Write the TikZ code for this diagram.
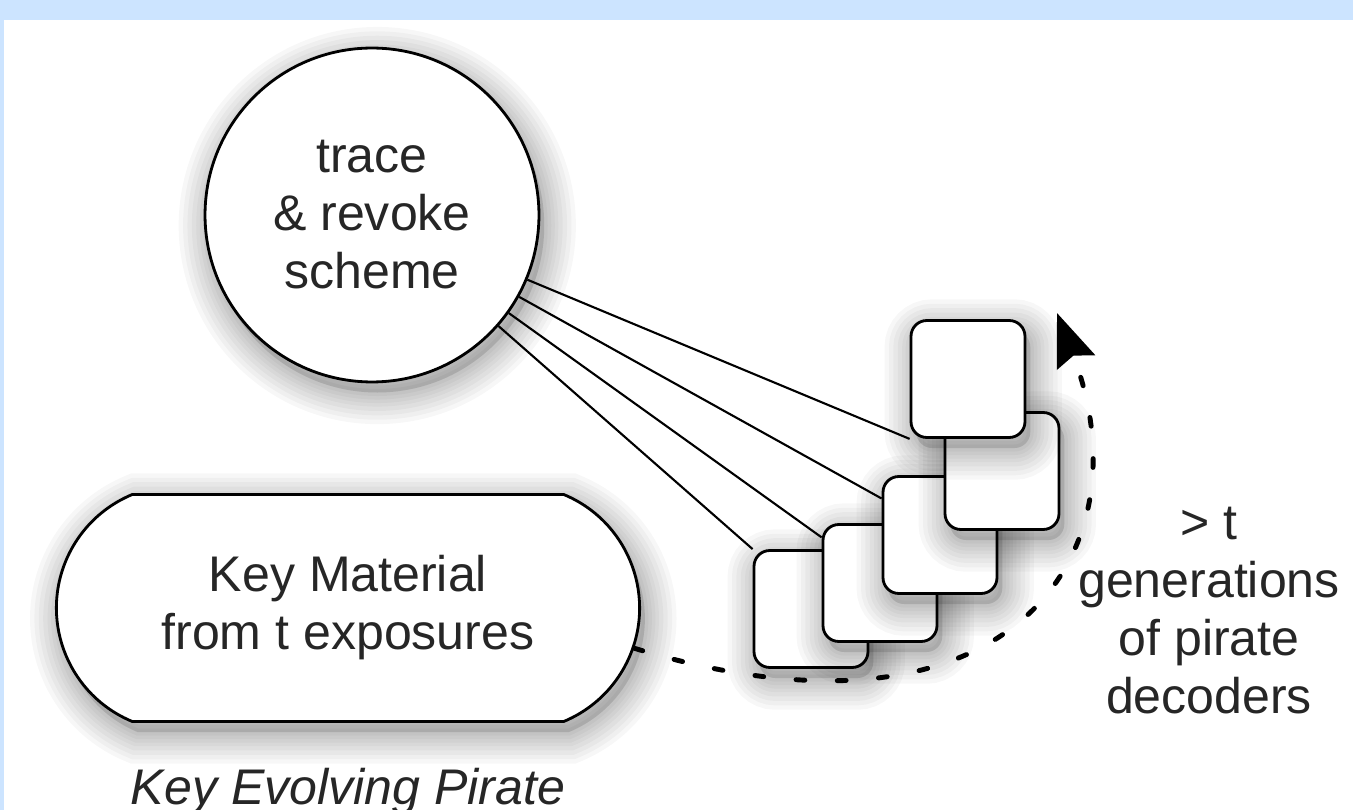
\documentclass[tikz,border=0pt]{standalone}
\usepackage{fontspec}
\setmainfont{Liberation Sans}
\setsansfont{Liberation Sans}
\usepackage{tikz}
\usetikzlibrary{positioning, shapes.misc, arrows.meta, backgrounds}
\definecolor{framebg}{RGB}{204,228,255}

\begin{document}
\begin{tikzpicture}[
    x=0.02cm, y=-0.02cm,
    >={Stealth[length=30pt, width=23pt, inset=4pt]},
    every edge/.style={draw, line width=1.2pt},
    shadowring/.style={preaction={draw=black, opacity=.03, line width=#1, transform canvas={xshift=3pt, yshift=-6pt}}},
    blurshadow/.style={
        preaction={fill=black, opacity=.12, transform canvas={xshift=3pt, yshift=-6pt}},
        shadowring=36pt, shadowring=31pt, shadowring=26pt, shadowring=21pt,
        shadowring=16pt, shadowring=12pt, shadowring=8pt, shadowring=4pt},
    txt/.style={font=\sffamily\fontsize{28.5pt}{33pt}\selectfont, text=black!85, align=center},
    scheme/.style={circle, draw, line width=1.6pt, fill=white, blurshadow, minimum size=6.68cm, inner sep=0pt, txt},
    keybox/.style={rounded rectangle, rounded rectangle arc length=135, draw, line width=1.6pt, fill=white, blurshadow, minimum width=11.9cm, minimum height=4.54cm, txt},
    decoder/.style={draw, line width=1.6pt, rounded corners=9pt, fill=white, blurshadow, minimum width=2.28cm, minimum height=2.34cm, inner sep=0pt},
    evolve/.style={line width=2.8pt, dash pattern=on 5pt off 18.5pt, line cap=round, ->},
    caption/.style={txt, font=\sffamily\itshape\fontsize{28.5pt}{33pt}\selectfont, inner sep=0pt}]

    \useasboundingbox (0,0) rectangle (1353,810);

    \node at (372,215) [scheme] (revoke) {trace\\ \& revoke\\ scheme};
    \node at (348,608) [keybox] (keymat) {Key Material\\ from t exposures};
    \node [caption, below=0.9cm of keymat] (evolving) {Key Evolving Pirate};

    % pirate decoders, back to front
    \node at (811,609) [decoder] (pirate5) {};
    \node at (880,583) [decoder] (pirate4) {};
    \node at (940,535) [decoder] (pirate3) {};
    \node at (1002,471) [decoder] (pirate2) {};
    \node at (968,379) [decoder] (pirate1) {};

    \node at (1209,611) [txt] (generations) {> t\\ generations\\ of pirate\\ decoders};
    \coordinate (loopend) at (1057,313);

    \path (keymat.-8) edge [evolve, out=-17, in=-69, out distance=7.8cm, in distance=5.2cm] (loopend);

    \begin{scope}[on background layer]
        \fill [framebg] (0,0) rectangle (1353,810);
        \fill [white] (4,20) rectangle (1353,810);
        \path (revoke) edge (pirate1.south west);
        \path (revoke) edge (pirate3.148);
        \path (revoke) edge (pirate4.142);
        \path (revoke) edge (pirate5.north west);
    \end{scope}

\end{tikzpicture}
\end{document}
